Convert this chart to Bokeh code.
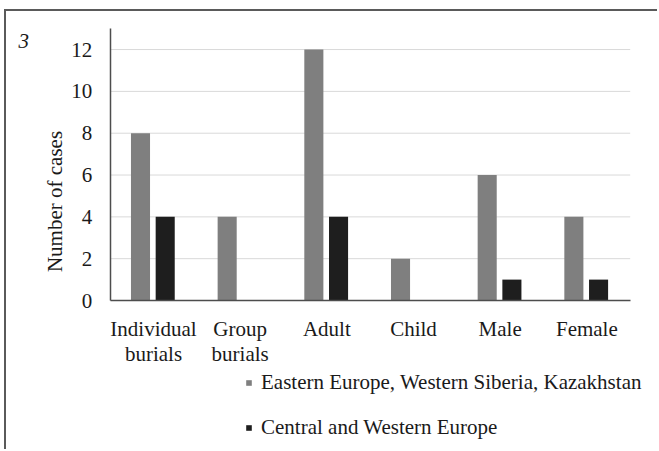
import numpy as np
from bokeh.plotting import figure
from bokeh.models import ColumnDataSource, FixedTicker, Legend, LegendItem, Label, Range1d
from bokeh.embed import file_html
from bokeh.resources import INLINE

categories = ["Individual\nburials", "Group\nburials", "Adult", "Child", "Male", "Female"]
eastern = [8, 4, 12, 2, 6, 4]
central = [4, 0, 4, 0, 1, 1]
series_names = ["Eastern Europe, Western Siberia, Kazakhstan", "Central and Western Europe"]
y_ticks = [0, 2, 4, 6, 8, 10, 12]
y_title = "Number of cases"

FONT = "Liberation Serif"
TXT = "#1a1a1a"
pos = np.arange(1, len(categories) + 1)
src = ColumnDataSource(dict(x=pos, cat=categories, east=eastern, cent=central,
                            xe=pos - 0.15, xc=pos + 0.135))

p = figure(x_range=Range1d(-0.696, 6.838), y_range=Range1d(-7.22, 13.82),
           width=653, height=440, output_backend="svg", toolbar_location=None,
           min_border=0, min_border_left=0, min_border_right=0,
           min_border_top=0, min_border_bottom=0)
p.styles = {"margin-left": "4px", "margin-top": "9px",
            "border-left": "2px solid #5a5a5a", "border-top": "2px solid #5a5a5a"}
p.outline_line_color = None
p.xgrid.visible = False
p.ygrid.visible = False

# horizontal gridlines across the category span
p.segment(x0=pos[0] - 0.5, x1=pos[-1] + 0.5, y0=y_ticks[1:], y1=y_ticks[1:],
          line_color="#d9d9d9", line_width=1)

r1 = p.vbar(x="xe", top="east", width=0.22, source=src, fill_color="#7f7f7f", line_color=None)
r2 = p.vbar(x="xc", top="cent", width=0.22, source=src, fill_color="#1e1e1e", line_color=None)

xa, ya = p.xaxis[0], p.yaxis[0]
xa.fixed_location = 0
ya.fixed_location = pos[0] - 0.5
xa.bounds = (pos[0] - 0.5, pos[-1] + 0.5)
ya.bounds = (0, 13)
xa.ticker = FixedTicker(ticks=list(pos))
xa.major_label_overrides = {int(k): c for k, c in zip(pos, categories)}
ya.ticker = FixedTicker(ticks=y_ticks)

for ax in (xa, ya):
    ax.major_tick_line_color = None
    ax.minor_tick_line_color = None
    ax.axis_line_color = "#4d4d4d"
    ax.axis_line_width = 1.5
    ax.major_label_text_font = FONT
    ax.major_label_text_color = TXT
    ax.major_label_text_font_size = "21px"

ya.major_label_standoff = 12
xa.major_label_standoff = 10
xa.major_label_orientation = "horizontal"
xa.major_label_text_line_height = 1.05

# y-axis title, placed as in the reference (lower than the axis centre)
p.add_layout(Label(x=48, y=250, x_units="screen", y_units="screen", text=y_title,
                   angle=np.pi / 2, text_align="center", text_baseline="alphabetic",
                   text_font=FONT, text_font_size="21px", text_color=TXT))

legend = Legend(items=[LegendItem(label=series_names[0], renderers=[r1]),
                       LegendItem(label=series_names[1], renderers=[r2])],
                location=(239, 11), orientation="vertical",
                padding=0, margin=0, spacing=20,
                glyph_width=7, glyph_height=7, label_height=20, label_standoff=9,
                label_text_font=FONT, label_text_font_size="21px", label_text_color=TXT,
                background_fill_alpha=0, border_line_color=None)
p.add_layout(legend, "center")

p.add_layout(Label(x=12, y=411, x_units="screen", y_units="screen", text="3",
                   text_baseline="alphabetic",
                   text_font=FONT, text_font_style="italic", text_font_size="21px",
                   text_color=TXT))

open("out.html", "w").write(file_html(p, INLINE))
